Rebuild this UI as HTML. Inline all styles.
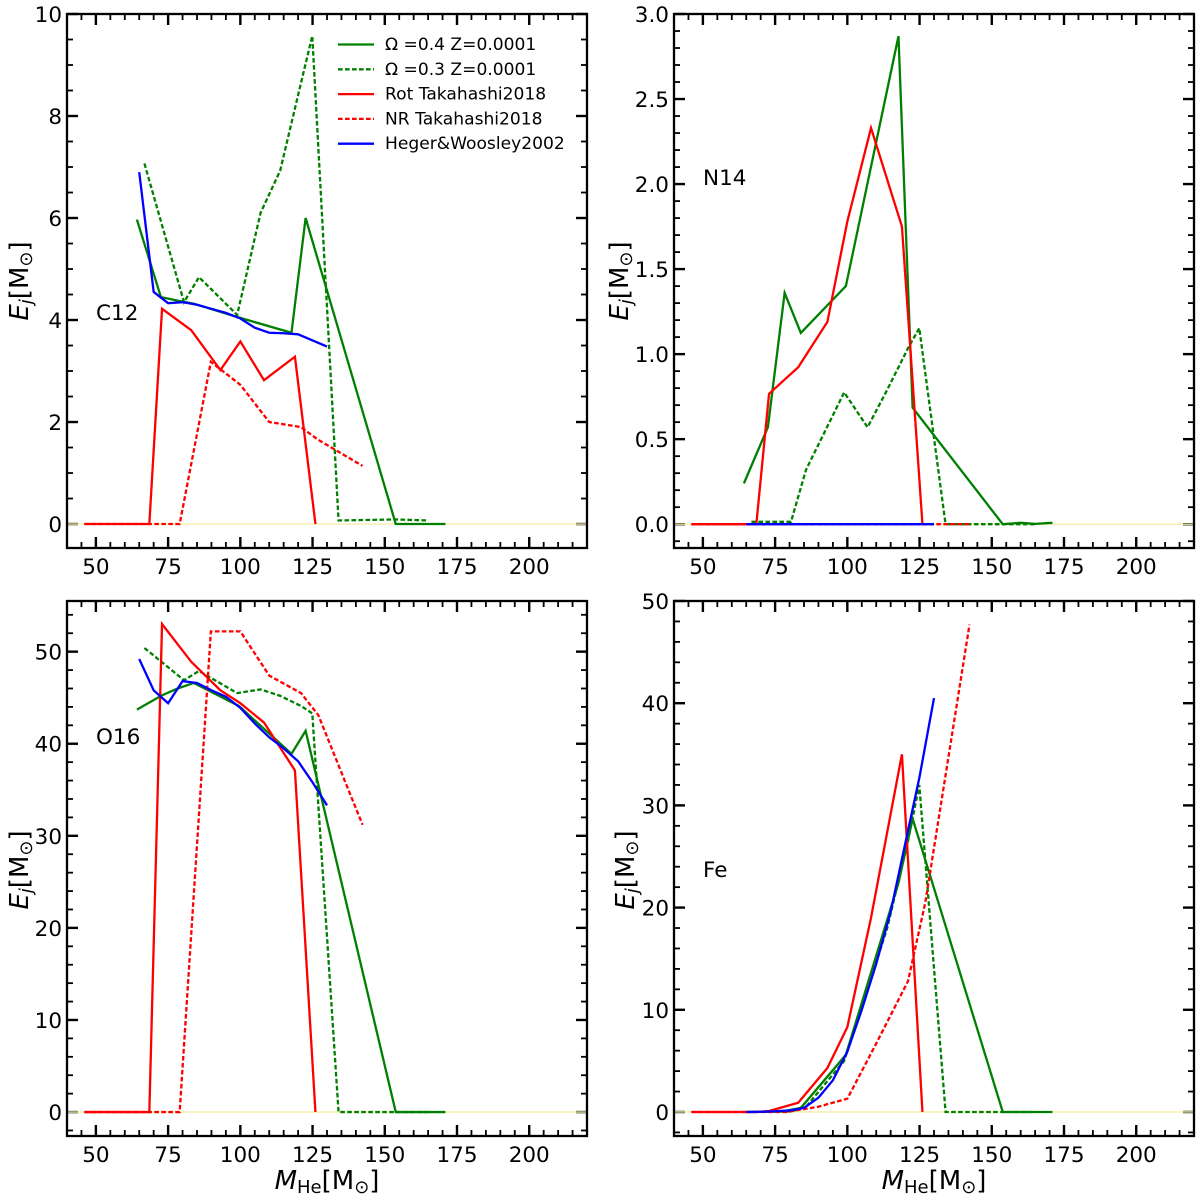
<!DOCTYPE html>
<html lang="en">
<head>
<meta charset="utf-8">
<title>Ejected mass vs helium core mass</title>
<style>
html,body{margin:0;padding:0;background:#fff;width:1200px;height:1200px;overflow:hidden}
svg{display:block}
text{font-family:"DejaVu Sans","Liberation Sans",sans-serif;fill:#000}
</style>
</head>
<body>
<svg id="figure" xmlns="http://www.w3.org/2000/svg" width="1200" height="1200" viewBox="0 0 1200 1200"></svg>
<script>
const massOmega04 = [64.2,72.5,78.3,83.9,99.5,117.7,122.6,153.8,160,165,171];
const c12Omega04 = [5.97,4.45,4.38,4.32,4.05,3.75,6.0,0,0,0,0];
const n14Omega04 = [0.24,0.57,1.36,1.125,1.4,2.87,0.685,0,0.008,0.002,0.008];
const o16Omega04 = [43.7,45.2,46.0,46.6,44.1,38.9,41.4,0,0,0,0];
const feOmega04 = [0,0.02,0.1,0.4,5.6,22.4,28.7,0,0,0,0];

const massOmega03 = [66.8,80.5,85.7,98.9,107,113.8,121,124.9,134,153.7,165];
const c12Omega03 = [7.07,4.35,4.84,4.1,6.1,6.93,8.65,9.57,0.07,0.09,0.07];
const n14Omega03 = [0.014,0.014,0.32,0.775,0.57,0.79,1.035,1.153,0,0,0];
const o16Omega03 = [50.4,46.9,47.9,45.5,45.9,45.2,44.1,43.3,0,0,0];
const feOmega03 = [0,0.05,0.5,5.0,12,18,26.5,32,0,0,0];

const massRot = [46,68.5,72.9,83,93.1,100,108.2,118.9,126];
const c12Rot = [0,0,4.22,3.8,3.02,3.58,2.82,3.28,0];
const n14Rot = [0,0,0.767,0.923,1.19,1.78,2.33,1.75,0];
const o16Rot = [0,0,53,48.9,45.8,44.4,42.3,37.1,0];
const feRot = [0,0,0.1,0.9,4.3,8.3,19,35,0];

const massNR = [46,79,89.8,100,110,121,127,142.3];
const c12NR = [0,0,3.18,2.73,2.0,1.9,1.65,1.14];
const n14NR = [0,0,0,0,0,0,0,0];
const o16NR = [0,0,52.2,52.2,47.4,45.5,43.1,31.2];
const feNR = [0,0,0.5,1.3,6.7,12.8,20.5,47.7];

const massHW = [65,70,75,80,85,90,95,100,105,110,115,120,125,130];
const c12HW = [6.9,4.55,4.33,4.35,4.3,4.22,4.14,4.03,3.85,3.75,3.74,3.72,3.6,3.48];
const n14HW = [0,0,0,0,0,0,0,0,0,0,0,0,0,0];
const o16HW = [49.2,45.8,44.4,46.8,46.6,45.8,45.1,43.9,42.2,40.7,39.5,38.1,35.8,33.3];
const feHW = [0,0.02,0.07,0.15,0.4,1.4,3.1,5.9,10,14.5,19.6,26.2,32.8,40.5];

const xTickLabels = [50,75,100,125,150,175,200];
const c12TickLabels = ["0","2","4","6","8","10"];
const n14TickLabels = ["0.0","0.5","1.0","1.5","2.0","2.5","3.0"];
const o16TickLabels = ["0","10","20","30","40","50"];
const feTickLabels = ["0","10","20","30","40","50"];

const legendLabels = ["Ω =0.4 Z=0.0001","Ω =0.3 Z=0.0001","Rot Takahashi2018","NR Takahashi2018","Heger&Woosley2002"];

const SVG_NS = "http://www.w3.org/2000/svg";
const fig = document.getElementById("figure");
const GREEN = "#008000", RED = "#ff0000", BLUE = "#0000ff", ZERO = "#f5efa8";
const DASH = "4.6,2.4";
const xMin = 40, xMax = 220;

function el(tag, attrs, parent) {
  const e = document.createElementNS(SVG_NS, tag);
  for (const k in attrs) e.setAttribute(k, attrs[k]);
  (parent || fig).appendChild(e);
  return e;
}

function drawPanel(p) {
  const g = el("g", {});
  
  

  const xs = v => p.left + (v - xMin) * (p.right - p.left) / (xMax - xMin);
  const ys = v => p.bottom - (v - p.yMin) * (p.bottom - p.top) / (p.yMax - p.yMin);

  const bg = el("rect", {x:p.left, y:p.top, width:p.right-p.left, height:p.bottom-p.top, fill:"#fff"}, g);
  
  

  const ticks = el("g", {stroke:"#000", fill:"none"}, g);
  
  

  const tick = (x1, y1, x2, y2, w) => el("line", {x1, y1, x2, y2, "stroke-width": w}, ticks);

  for (let v = 45; v <= xMax; v += 5) {
    const major = (v % 25 === 0);
    const len = major ? 11 : 6, w = major ? 2.4 : 1.8, x = xs(v);
    tick(x, p.bottom, x, p.bottom - len, w);
    tick(x, p.top, x, p.top + len, w);
  }
  const nMinor = Math.round((p.yMax - p.yMin) / p.minorStep) + 2;
  const firstMinor = Math.ceil(p.yMin / p.minorStep - 1e-9);
  for (let i = 0; i < nMinor; i++) {
    const idx = firstMinor + i, v = idx * p.minorStep;
    if (v > p.yMax + 1e-9) break;
    const major = (idx % p.minorPerMajor === 0);
    const len = major ? 11 : 6, w = major ? 2.4 : 1.8, y = ys(v);
    tick(p.left, y, p.left + len, y, w);
    tick(p.right, y, p.right - len, y, w);
  }

  const zero = el("line", {x1:p.left, x2:p.right, y1:ys(0), y2:ys(0), stroke:ZERO, "stroke-width":1.4}, g);
  
  

  p.series.forEach(s => {
    const pts = s.x.map((v, i) => xs(v).toFixed(2) + "," + ys(s.y[i]).toFixed(2)).join(" ");
    const line = el("polyline", {points:pts, fill:"none", stroke:s.color, "stroke-width":2.3, "stroke-linejoin":"miter", "stroke-miterlimit":4}, g);
    if (s.dash) line.setAttribute("stroke-dasharray", DASH);
    
    
  });

  const frame = el("rect", {x:p.left, y:p.top, width:p.right-p.left, height:p.bottom-p.top, fill:"none", stroke:"#000", "stroke-width":2.3}, g);
  
  

  xTickLabels.forEach(v => {
    const t = el("text", {x:xs(v), y:p.bottom + 26, "text-anchor":"middle", "font-size":p.tickSize}, g);
    t.textContent = v;
    
    
  });
  p.yLabels.forEach((txt, i) => {
    const t = el("text", {x:p.left - 5, y:ys(i * p.majorStep) + 8, "text-anchor":"end", "font-size":p.tickSize}, g);
    t.textContent = txt;
    
    
  });

  const lab = el("text", {x:p.labelX, y:p.labelY, "font-size":21.5}, g);
  lab.textContent = p.label;
  
  

  const yt = el("text", {transform:"translate(" + p.yTitleX + "," + p.yTitleY + ") rotate(-90)", "text-anchor":"middle", "font-size":26}, g);
  
  
  el("tspan", {"font-style":"italic"}, yt).textContent = "E";
  el("tspan", {"font-style":"italic", "font-size":18, dy:4}, yt).textContent = "j";
  el("tspan", {dy:-4}, yt).textContent = "[M";
  el("tspan", {"font-size":18, dy:4}, yt).textContent = "⊙";
  el("tspan", {dy:-4}, yt).textContent = "]";

  if (p.showXTitle) {
    const xt = el("text", {x:(p.left + p.right) / 2, y:p.bottom + 53, "text-anchor":"middle", "font-size":26}, g);
    
    
    el("tspan", {"font-style":"italic"}, xt).textContent = "M";
    el("tspan", {"font-size":18, dy:4}, xt).textContent = "He";
    el("tspan", {dy:-4}, xt).textContent = "[M";
    el("tspan", {"font-size":18, dy:4}, xt).textContent = "⊙";
    el("tspan", {dy:-4}, xt).textContent = "]";
  }
}

function seriesSet(o4, o3, rot, nr, hw) {
  return [
    {name:"omega-04", x:massOmega04, y:o4, color:GREEN, dash:false},
    {name:"omega-03", x:massOmega03, y:o3, color:GREEN, dash:true},
    {name:"rot-takahashi", x:massRot, y:rot, color:RED, dash:false},
    {name:"nr-takahashi", x:massNR, y:nr, color:RED, dash:true},
    {name:"heger-woosley", x:massHW, y:hw, color:BLUE, dash:false}
  ];
}

drawPanel({id:"c12", left:67, right:587, top:14, bottom:548, yMin:-0.47, yMax:10, majorStep:2, minorStep:0.5, minorPerMajor:4,
  yLabels:c12TickLabels, label:"C12", labelX:96, labelY:320, yTitleX:28, yTitleY:281, showXTitle:false, tickSize:21.5,
  series:seriesSet(c12Omega04,c12Omega03,c12Rot,c12NR,c12HW)});
drawPanel({id:"n14", left:674, right:1194, top:14, bottom:548, yMin:-0.14, yMax:3, majorStep:0.5, minorStep:0.1, minorPerMajor:5,
  yLabels:n14TickLabels, label:"N14", labelX:703, labelY:185, yTitleX:628, yTitleY:281, showXTitle:false, tickSize:21.5,
  series:seriesSet(n14Omega04,n14Omega03,n14Rot,n14NR,n14HW)});
drawPanel({id:"o16", left:67, right:587, top:601, bottom:1136, yMin:-2.6, yMax:55.5, majorStep:10, minorStep:2, minorPerMajor:5,
  yLabels:o16TickLabels, label:"O16", labelX:96, labelY:744, yTitleX:28, yTitleY:870, showXTitle:true, tickSize:21.5,
  series:seriesSet(o16Omega04,o16Omega03,o16Rot,o16NR,o16HW)});
drawPanel({id:"fe", left:674, right:1194, top:601, bottom:1136, yMin:-2.35, yMax:50, majorStep:10, minorStep:2, minorPerMajor:5,
  yLabels:feTickLabels, label:"Fe", labelX:703, labelY:877, yTitleX:634, yTitleY:870, showXTitle:true, tickSize:21.5,
  series:seriesSet(feOmega04,feOmega03,feRot,feNR,feHW)});

const legendStyles = [
  {color:GREEN, dash:false}, {color:GREEN, dash:true}, {color:RED, dash:false}, {color:RED, dash:true}, {color:BLUE, dash:false}
];
const legend = el("g", {});


legendLabels.forEach((txt, i) => {
  const y = 44 + i * 24.8;
  const ln = el("line", {x1:338, x2:374, y1:y + 0.5, y2:y + 0.5, stroke:legendStyles[i].color, "stroke-width":2.3}, legend);
  if (legendStyles[i].dash) ln.setAttribute("stroke-dasharray", DASH);
  
  
  const t = el("text", {x:385, y:y + 6, "font-size":17.1}, legend);
  t.textContent = txt;
  
  
});
</script>
</body>
</html>
